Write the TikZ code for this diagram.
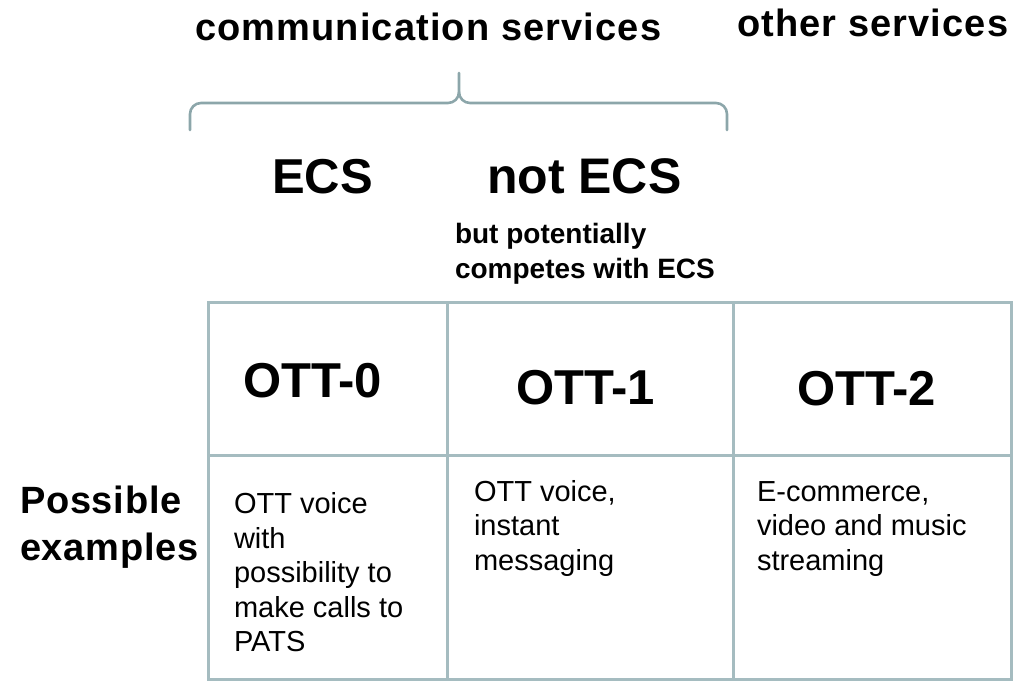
\documentclass[tikz,border=0pt]{standalone}
\usepackage{fontspec}
\setmainfont{Liberation Sans}
\newfontfamily\spacedfont[LetterSpace=3]{Liberation Sans}
\newfontfamily\sidefont[LetterSpace=2]{Liberation Sans}
\definecolor{gridcol}{RGB}{165,188,192}
\definecolor{bracecol}{RGB}{140,166,170}
\begin{document}
\begin{tikzpicture}[x=1pt,y=-1pt,
  gridline/.style={draw=gridcol,line width=3pt},
  braceline/.style={draw=bracecol,line width=2.6pt,line cap=round,line join=round},
  txt/.style={anchor=base west,inner sep=0pt,outer sep=0pt,align=left},
  head/.style={txt,font=\spacedfont\bfseries\fontsize{38}{45}\selectfont},
  big/.style={txt,font=\bfseries\fontsize{49}{58}\selectfont},
  sub/.style={txt,font=\bfseries\fontsize{28}{35}\selectfont},
  side/.style={txt,font=\sidefont\bfseries\fontsize{38}{47}\selectfont},
  cell/.style={txt,font=\fontsize{29}{34.5}\selectfont}]
\useasboundingbox (0,0) rectangle (1014,681);
% table
\coordinate (tl) at (208,302);
\coordinate (br) at (1011,679);
\coordinate (v1t) at (447,302);
\coordinate (v1b) at (447,679);
\coordinate (v2t) at (733,302);
\coordinate (v2b) at (733,679);
\coordinate (hl) at (208,455);
\coordinate (hr) at (1011,455);
\draw[gridline] (tl) rectangle (br);
\draw[gridline] (v1t) -- (v1b);
\draw[gridline] (v2t) -- (v2b);
\draw[gridline] (hl) -- (hr);
% brace
\coordinate (bl) at (190,130);
\coordinate (bt) at (459,73);
\coordinate (brr) at (727,130);
\draw[braceline] (bl) -- (190,114) to[out=90,in=180] (201,103) -- (448,103)
  to[out=0,in=-90] (459,92) -- (bt);
\draw[braceline] (459,92) to[out=-90,in=180] (470,103) -- (716,103)
  to[out=0,in=90] (727,114) -- (brr);
% headings
\node[head] (comm) at (195,40) {communication services};
\node[head] (other) at (737,36) {other services};
\node[big] (ecs) at (272,193) {ECS};
\node[big,font=\bfseries\fontsize{50}{58}\selectfont] (notecs) at (487,193) {not ECS};
\node[sub] (but) at (455,278) {but potentially\\competes with ECS};
% table heads
\node[big] (ott0) at (243,397) {OTT-0};
\node[big] (ott1) at (516,404) {OTT-1};
\node[big] (ott2) at (797,405) {OTT-2};
\node[side] (poss) at (20,560) {Possible\\examples};
% cells
\node[cell] (c0) at (234,651.5) {OTT voice\\with\\possibility to\\make calls to\\PATS};
\node[cell] (c1) at (474,570) {OTT voice,\\instant\\messaging};
\node[cell] (c2) at (757,570) {E-commerce,\\video and music\\streaming};
\end{tikzpicture}
\end{document}
